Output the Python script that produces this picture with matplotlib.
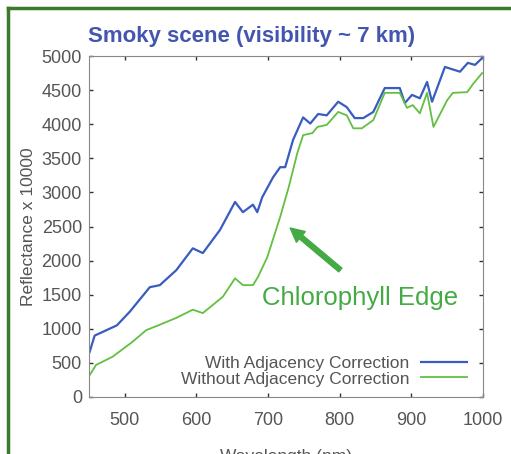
import matplotlib
matplotlib.use("Agg")
import matplotlib.pyplot as plt
from matplotlib.lines import Line2D

# wavelength (nm) and reflectance x 10000
wl_with = [451, 458, 489, 507, 535, 549, 572, 595, 609, 633, 654, 665, 679, 685, 692,
           707, 717, 724, 735, 749, 759, 770, 782, 798, 810, 821, 833, 847, 863, 884,
           891, 901, 912, 922, 929, 947, 968, 979, 989, 999]
refl_with = [660, 900, 1050, 1250, 1610, 1640, 1860, 2180, 2110, 2450, 2860, 2710, 2820, 2710, 2930,
             3220, 3370, 3370, 3770, 4100, 4010, 4150, 4130, 4330, 4250, 4090, 4090, 4180, 4530, 4530,
             4310, 4430, 4380, 4620, 4330, 4840, 4770, 4900, 4870, 4970]

wl_without = [451, 460, 483, 511, 530, 549, 572, 595, 609, 637, 654, 665, 679, 686, 699,
              717, 729, 741, 749, 762, 769, 782, 798, 810, 819, 831, 847, 863, 884, 894,
              902, 912, 922, 931, 950, 958, 978, 987, 999]
refl_without = [320, 470, 590, 810, 980, 1060, 1160, 1280, 1230, 1470, 1740, 1640, 1640, 1760, 2050,
                2640, 3080, 3580, 3840, 3870, 3960, 3990, 4180, 4130, 3940, 3940, 4060, 4460, 4460, 4240,
                4280, 4160, 4460, 3960, 4350, 4460, 4470, 4600, 4750]

x_ticks = [500, 600, 700, 800, 900, 1000]
y_ticks = list(range(0, 5001, 500))

plt.rcParams['font.family'] = ['Liberation Sans', 'DejaVu Sans']

fig = plt.figure(figsize=(5.11, 4.54), dpi=100)
ax = fig.add_axes([0.174, 0.1256, 0.771, 0.751])

ax.plot(wl_with, refl_with, color='#3a5cc0', lw=1.6, label='With Adjacency Correction')
ax.plot(wl_without, refl_without, color='#62bf40', lw=1.3, label='Without Adjacency Correction')

ax.set_xlim(450, 1000)
ax.set_ylim(0, 5000)
ax.set_xticks(x_ticks)
ax.set_yticks(y_ticks)
ax.tick_params(direction='in', top=True, right=True, length=3, width=1,
               colors='#333333', labelcolor='#555555', labelsize=13)
ax.tick_params(axis='y', pad=5)
ax.tick_params(axis='x', pad=11)
for s in ax.spines.values():
    s.set_color('#888888')

ax.set_xlabel('Wavelength (nm)', color='#555555', fontsize=12.5, labelpad=14)
ax.set_ylabel('Reflectance x 10000', color='#555555', fontsize=12.5, labelpad=4)
ax.set_title('Smoky scene (visibility ~ 7 km)', color='#4455b0', fontsize=16,
             fontweight='bold', loc='left', x=-0.002, pad=10)

ax.annotate('', xy=(731, 2478), xytext=(801, 1862),
            arrowprops=dict(arrowstyle='simple,head_width=1.0,head_length=1.0,tail_width=0.35',
                            color='#44aa44', shrinkA=0, shrinkB=0))
ax.text(692, 1450, 'Chlorophyll Edge', color='#44aa44', fontsize=18.5, va='center', ha='left')

ax.legend(loc='lower right', frameon=False, markerfirst=False, handlelength=2.6,
          fontsize=12.5, labelcolor='#555555', borderaxespad=0.2, labelspacing=0.0,
          handletextpad=0.7, bbox_to_anchor=(0.985, 0.0))

# green frame around the panel
fig.add_artist(Line2D([8 / 511, 1], [1 - 8 / 454, 1 - 8 / 454], color='#3a7a28', lw=2.5,
                      transform=fig.transFigure))
fig.add_artist(Line2D([8 / 511, 8 / 511], [0, 1 - 8 / 454], color='#3a7a28', lw=2.5,
                      transform=fig.transFigure))

fig.savefig('out.png', dpi=100)
